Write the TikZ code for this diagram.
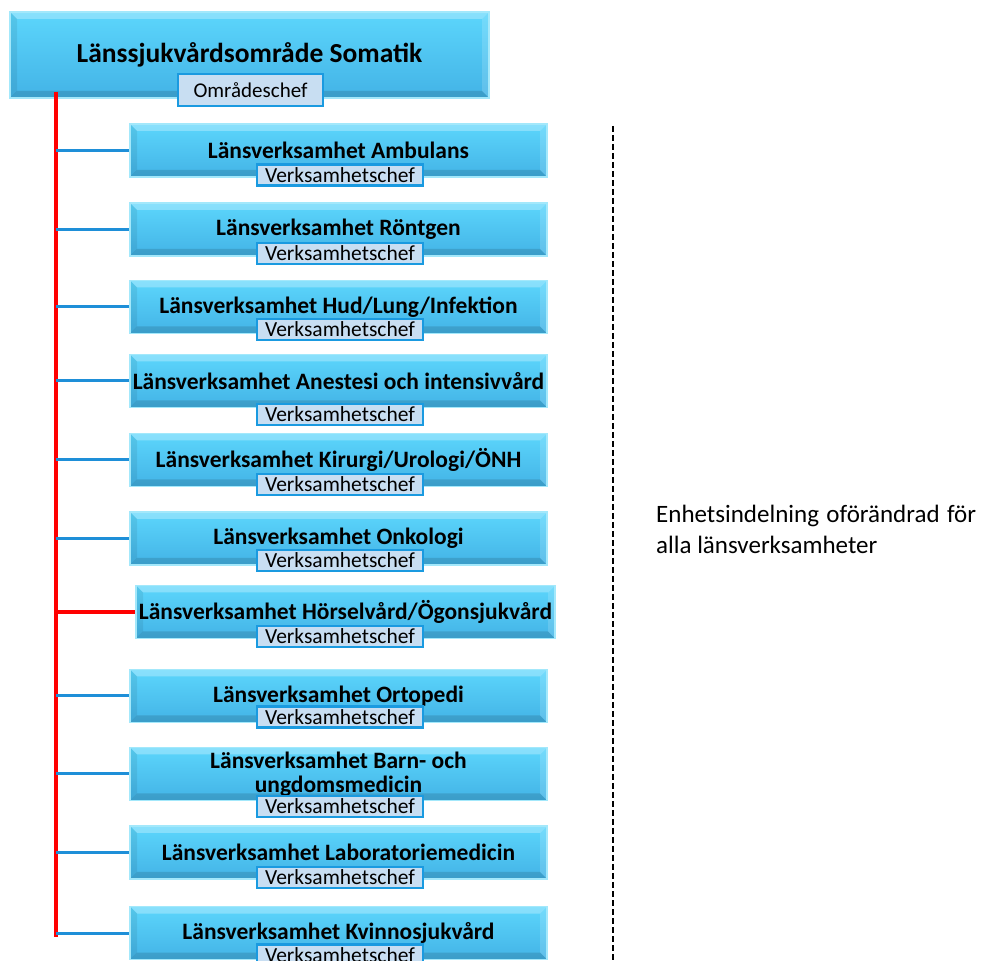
\documentclass[tikz,border=0pt]{standalone}
\usepackage{fontspec}
\setmainfont{Carlito}
\usetikzlibrary{positioning,calc}

\definecolor{boxtop}{HTML}{5CD6FC}
\definecolor{boxbot}{HTML}{43B3E6}
\definecolor{boxrim}{HTML}{A3E8FB}
\definecolor{chefbg}{HTML}{C8DEF2}
\definecolor{chefrim}{HTML}{1A9AE0}
\definecolor{grenblue}{HTML}{1E8FD8}

\tikzset{
  bevel/.style={path picture={
    \fill[white,opacity=.28] (path picture bounding box.north west) -- (path picture bounding box.north east)
      -- ([xshift=-7pt,yshift=-7pt]path picture bounding box.north east) -- ([xshift=7pt,yshift=-7pt]path picture bounding box.north west) -- cycle;
    \fill[black,opacity=.12] (path picture bounding box.south west) -- (path picture bounding box.south east)
      -- ([xshift=-7pt,yshift=7pt]path picture bounding box.south east) -- ([xshift=7pt,yshift=7pt]path picture bounding box.south west) -- cycle;
    \fill[black,opacity=.07] (path picture bounding box.south west) -- (path picture bounding box.north west)
      -- ([xshift=7pt,yshift=-7pt]path picture bounding box.north west) -- ([xshift=7pt,yshift=7pt]path picture bounding box.south west) -- cycle;
    \fill[white,opacity=.15] (path picture bounding box.south east) -- (path picture bounding box.north east)
      -- ([xshift=-7pt,yshift=-7pt]path picture bounding box.north east) -- ([xshift=-7pt,yshift=7pt]path picture bounding box.south east) -- cycle;
  }},
  enhet/.style={bevel,draw=boxrim,line width=1.2pt,top color=boxtop,bottom color=boxbot,
    minimum width=417pt,minimum height=53pt,inner sep=0pt,align=center,
    font=\bfseries\fontsize{23.5}{24}\selectfont},
  chef/.style={draw=chefrim,line width=2.5pt,fill=chefbg,minimum width=166pt,minimum height=21pt,
    inner sep=0pt,font=\fontsize{21.5}{22}\selectfont},
  gren/.style={grenblue,line width=3pt},
  stamlinje/.style={red,line width=4pt}
}

\begin{document}
\begin{tikzpicture}[x=1pt,y=1pt]
  \useasboundingbox (0,0) rectangle (981,960);
  \clip (0,0) rectangle (981,960);

  % omraade
  \node[enhet,minimum width=479pt,minimum height=86pt,font=\bfseries\fontsize{27.5}{28}\selectfont] (lso) at (249.5,905) {Länssjukvårdsområde Somatik};
  \coordinate (stamtop) at (56,868);
  \coordinate (stambot) at (56,23);
  \draw[stamlinje] (stamtop) -- (stambot);
  \node[chef,minimum width=145pt,minimum height=32pt,font=\fontsize{21}{23}\selectfont] (lsochef) at (250.5,870) {Områdeschef};

  % verksamheter
  \node[enhet] (ambulans) at (338.5,809.5) {Länsverksamhet Ambulans};
  \node[enhet] (rontgen) at (338.5,730.5) {Länsverksamhet Röntgen};
  \node[enhet] (hud) at (338.5,653) {Länsverksamhet Hud/Lung/Infektion};
  \node[enhet] (anestesi) at (338.5,579) {Länsverksamhet Anestesi och intensivvård};
  \node[enhet] (kirurgi) at (338.5,500) {Länsverksamhet Kirurgi/Urologi/ÖNH};
  \node[enhet] (onkologi) at (338.5,421.5) {Länsverksamhet Onkologi};
  \node[enhet,minimum width=419pt] (horsel) at (345.5,348) {Länsverksamhet Hörselvård/Ögonsjukvård};
  \node[enhet] (ortopedi) at (338.5,264) {Länsverksamhet Ortopedi};
  \node[enhet] (barn) at (338.5,186) {Länsverksamhet Barn- och\\ungdomsmedicin};
  \node[enhet] (lab) at (338.5,107.5) {Länsverksamhet Laboratoriemedicin};
  \node[enhet] (kvinno) at (338.5,27) {Länsverksamhet Kvinnosjukvård};

  \draw[gren] (ambulans.west -| stamtop) -- (ambulans.west);
  \draw[gren] (rontgen.west -| stamtop) -- (rontgen.west);
  \draw[gren] (hud.west -| stamtop) -- (hud.west);
  \draw[gren] (anestesi.west -| stamtop) -- (anestesi.west);
  \draw[gren] (kirurgi.west -| stamtop) -- (kirurgi.west);
  \draw[gren] (onkologi.west -| stamtop) -- (onkologi.west);
  \draw[stamlinje] (horsel.west -| stamtop) -- (horsel.west);
  \draw[gren] (ortopedi.west -| stamtop) -- (ortopedi.west);
  \draw[gren] (barn.west -| stamtop) -- (barn.west);
  \draw[gren] (lab.west -| stamtop) -- (lab.west);
  \draw[gren] (kvinno.west -| stamtop) -- (kvinno.west);

  \node[chef] (ambulanschef) at (340,785) {Verksamhetschef};
  \node[chef] (rontgenchef) at (340,706.5) {Verksamhetschef};
  \node[chef] (hudchef) at (340,630.5) {Verksamhetschef};
  \node[chef] (anestesichef) at (340,545.5) {Verksamhetschef};
  \node[chef] (kirurgichef) at (340,475.5) {Verksamhetschef};
  \node[chef] (onkologichef) at (340,399.5) {Verksamhetschef};
  \node[chef] (horselchef) at (340,323.5) {Verksamhetschef};
  \node[chef] (ortopedichef) at (340,243) {Verksamhetschef};
  \node[chef] (barnchef) at (340,153.5) {Verksamhetschef};
  \node[chef] (labchef) at (340,82.5) {Verksamhetschef};
  \node[chef] (kvinnochef) at (340,5) {Verksamhetschef};

  % enhetsindelning
  \coordinate (streck1) at (613,834);
  \coordinate (streck2) at (613,0);
  \draw[dashed,line width=1.5pt,dash pattern=on 6pt off 3pt] (streck1) -- (streck2);
  \node[anchor=north west,text width=320pt,align=justify,inner sep=0pt,font=\fontsize{25}{31}\selectfont] (enhet) at (656,455)
    {Enhetsindelning oförändrad för\linebreak alla länsverksamheter};
\end{tikzpicture}
\end{document}
